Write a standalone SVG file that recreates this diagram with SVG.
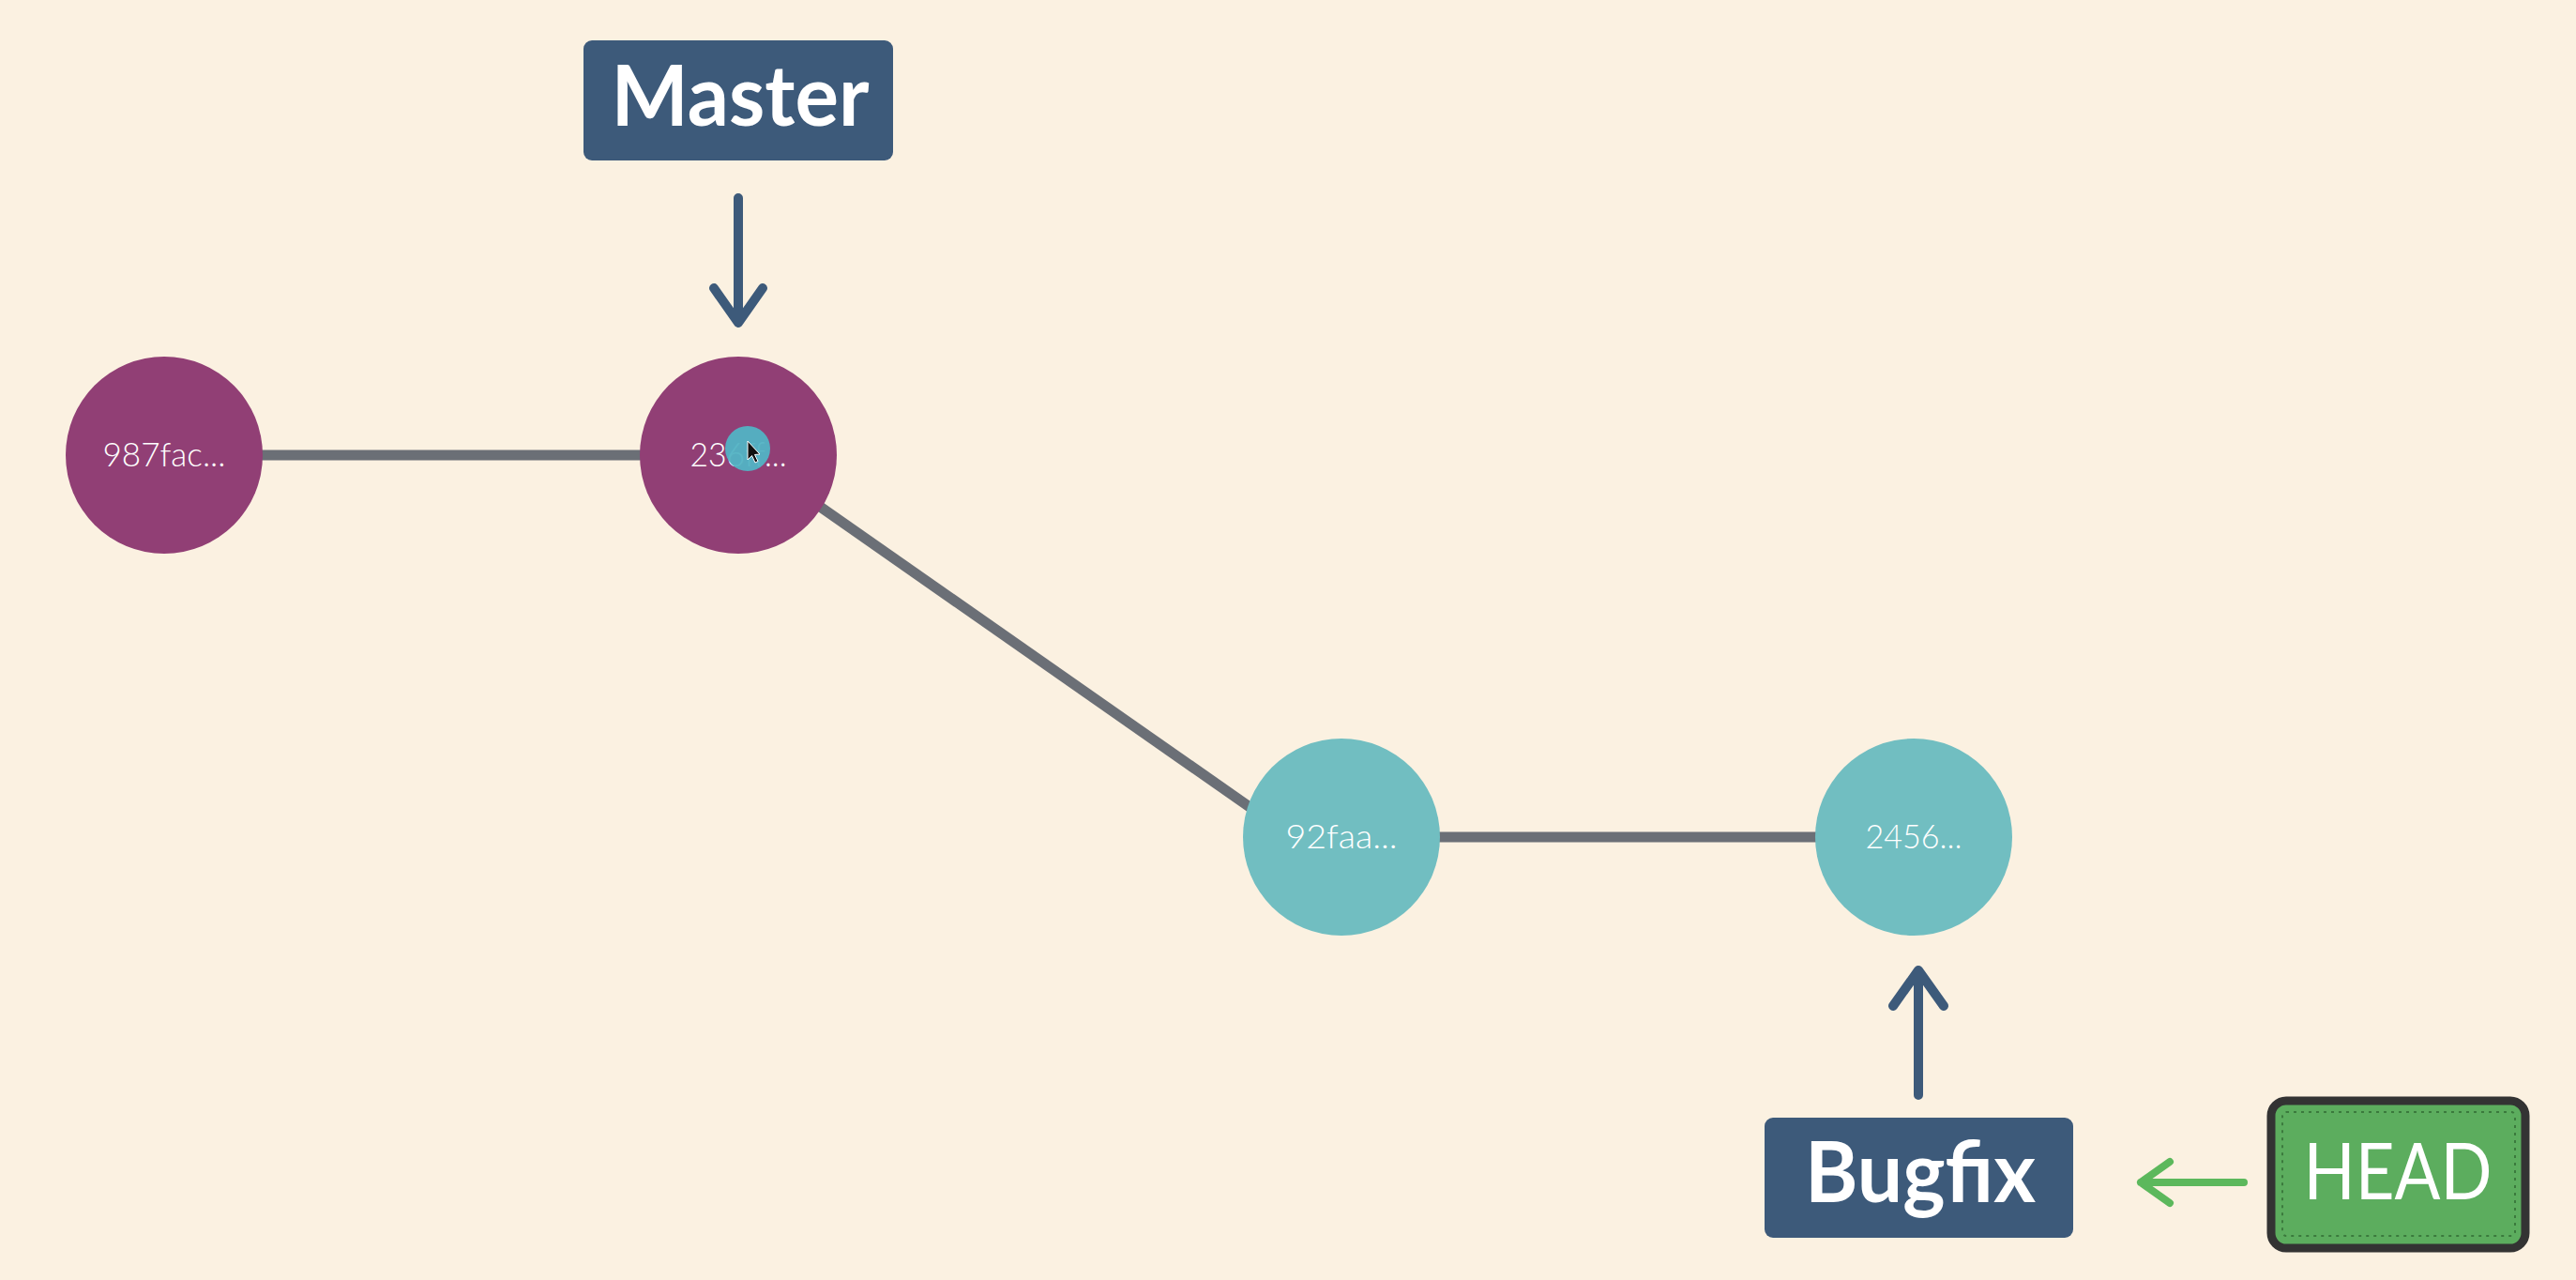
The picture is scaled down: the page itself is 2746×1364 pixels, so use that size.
<svg xmlns="http://www.w3.org/2000/svg" width="2746" height="1364" viewBox="0 0 2746 1364">
<style>
.bg{fill:#fbf1e1}
.edge{stroke:#6b6f76;stroke-width:11;fill:none}
.master{fill:#913f75}
.bug{fill:#71bec1}
.hash{font-family:Lato,"Liberation Sans",sans-serif;font-weight:300;font-size:35px;fill:#ffffff;text-anchor:middle}
.label{fill:#3d5a7a}
.ltext{font-family:Lato,"Liberation Sans",sans-serif;font-weight:700;font-size:90px;fill:#ffffff;text-anchor:middle}
.ptr{stroke:#3d5a7a;stroke-width:10;stroke-linecap:round;stroke-linejoin:round;fill:none}
.hptr{stroke:#5cb85c;stroke-width:8;stroke-linecap:round;stroke-linejoin:round;fill:none}
</style>
<rect class="bg" x="0" y="0" width="2746" height="1364"/>
<g id="connectors">
<line class="edge" x1="175" y1="485" x2="787" y2="485"/>
<line class="edge" x1="850" y1="523" x2="1345" y2="869"/>
<line class="edge" x1="1430" y1="892" x2="2040" y2="892"/>
<path class="ptr" d="M787 211 V344 M761 307 L787 344 L813 307"/>
<path class="ptr" d="M2045 1167 V1034 M2018 1072 L2045 1034 L2072 1072"/>
<path class="hptr" d="M2392 1260 H2282 M2313 1238 L2282 1260 L2313 1282"/>
</g>
<g id="commit-987fac">
<circle class="master" cx="175" cy="485" r="105"/>
<text class="hash" x="175" y="497" textLength="131" lengthAdjust="spacingAndGlyphs">987fac...</text>
</g>
<g id="commit-236ff">
<circle class="master" cx="787" cy="485" r="105"/>
<text class="hash" x="787" y="497" textLength="103" lengthAdjust="spacingAndGlyphs">236ff...</text>
<circle cx="797" cy="478" r="24" fill="#52b3c4" opacity="0.95"/>
<path d="M797 470 L797 490 L801.5 485.5 L805 493 L808 491.5 L804.5 484.5 L810 484 Z" fill="#111" stroke="#fff" stroke-width="1"/>
</g>
<g id="commit-92faa">
<circle class="bug" cx="1430" cy="892" r="105"/>
<text class="hash" x="1430" y="904" textLength="119" lengthAdjust="spacingAndGlyphs">92faa...</text>
</g>
<g id="commit-2456">
<circle class="bug" cx="2040" cy="892" r="105"/>
<text class="hash" x="2040" y="904" textLength="103" lengthAdjust="spacingAndGlyphs">2456...</text>
</g>
<g id="branch-master">
<rect class="label" x="622" y="43" width="330" height="128" rx="9"/>
<text class="ltext" x="789" y="134" textLength="275" lengthAdjust="spacingAndGlyphs">Master</text>
</g>
<g id="branch-bugfix">
<rect class="label" x="1881" y="1191" width="329" height="128" rx="9"/>
<text class="ltext" x="2047" y="1281" textLength="246" lengthAdjust="spacingAndGlyphs">Bugfix</text>
</g>
<g id="head">
<rect x="2421" y="1173" width="271" height="157" rx="16" fill="#5cad5e" stroke="#333333" stroke-width="9"/>
<rect x="2433" y="1185" width="248" height="132" rx="4" fill="none" stroke="#3b7a3d" stroke-width="2" stroke-dasharray="3 5"/>
<text x="2556" y="1278" font-family="Lato,'Liberation Sans',sans-serif" font-weight="400" font-size="84" fill="#ffffff" text-anchor="middle" textLength="201" lengthAdjust="spacingAndGlyphs">HEAD</text>
</g>
</svg>
